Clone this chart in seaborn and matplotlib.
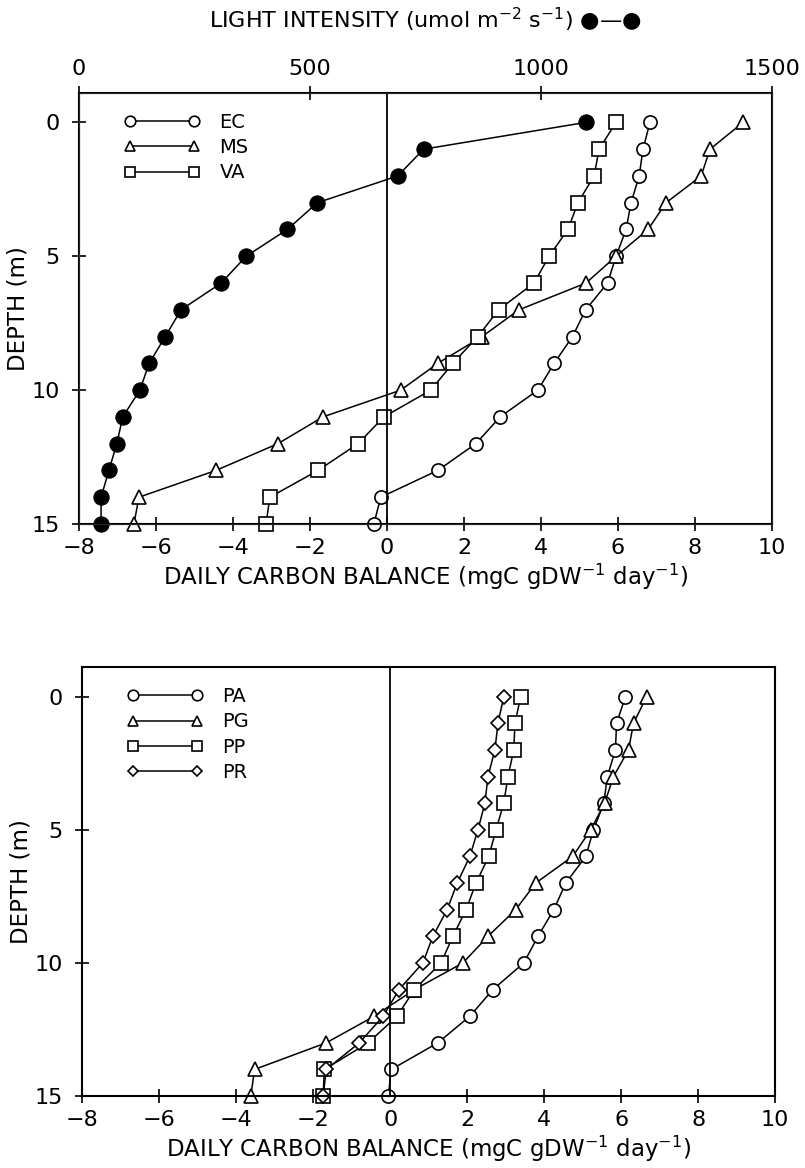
import pandas as pd
import matplotlib
matplotlib.use("Agg")
import matplotlib.pyplot as plt
import seaborn as sns

depth = list(range(16))

# light intensity (umol m-2 s-1), filled circles, top axis
light = [1097, 746, 690, 516, 451, 362, 308, 221, 187, 152, 132, 95, 82, 65, 48, 48]

# daily carbon balance (mgC gDW-1 day-1), upper panel
ec = [6.83, 6.65, 6.55, 6.34, 6.21, 5.95, 5.73, 5.16, 4.82, 4.34, 3.92, 2.94, 2.31, 1.32, -0.16, -0.34]
ms = [9.25, 8.39, 8.16, 7.25, 6.78, 5.95, 5.17, 3.43, 2.47, 1.32, 0.36, -1.66, -2.83, -4.44, -6.44, -6.57]
va = [5.95, 5.51, 5.38, 4.96, 4.70, 4.21, 3.82, 2.90, 2.36, 1.71, 1.14, -0.08, -0.75, -1.79, -3.04, -3.14]

# lower panel
pa = [6.11, 5.88, 5.85, 5.64, 5.55, 5.28, 5.08, 4.56, 4.25, 3.84, 3.47, 2.67, 2.07, 1.24, 0.03, -0.05]
pg = [6.66, 6.32, 6.19, 5.80, 5.57, 5.21, 4.74, 3.78, 3.26, 2.54, 1.89, 0.63, -0.41, -1.66, -3.52, -3.62]
pp = [3.39, 3.24, 3.21, 3.06, 2.95, 2.75, 2.56, 2.23, 1.97, 1.63, 1.32, 0.63, 0.18, -0.57, -1.71, -1.74]
pr = [2.95, 2.80, 2.72, 2.54, 2.46, 2.28, 2.07, 1.74, 1.48, 1.11, 0.85, 0.23, -0.18, -0.80, -1.66, -1.74]

sns.set_style("ticks")
plt.rcParams["font.family"] = ["DejaVu Sans"]
plt.rcParams["text.color"] = "black"
plt.rcParams["axes.labelcolor"] = "black"

fig = plt.figure(figsize=(8.05, 11.68), dpi=100)
ax1 = fig.add_axes([0.098, 0.5514, 0.861, 0.369])
ax2 = fig.add_axes([0.102, 0.0616, 0.861, 0.367])


def draw_species(ax, names, values, marks):
    for name, vals, m in zip(names, values, marks):
        sns.lineplot(x=vals, y=depth, ax=ax, sort=False, estimator=None,
                     color="black", linewidth=1.1, marker=m, markersize=9.5 if m != "D" else 7,
                     markerfacecolor="white", markeredgecolor="black",
                     markeredgewidth=1.2, label=name, clip_on=False)
    lines = ax.get_lines()[:len(names)]
    ax.legend(lines, names, loc="upper left", bbox_to_anchor=(0.04, 0.995),
              frameon=False, numpoints=2, handlelength=3.9, markerscale=0.8,
              fontsize=14, labelspacing=0.33, handletextpad=1.0)


def style_axes(ax):
    ax.axvline(0, color="black", linewidth=1.3)
    ax.set_xlim(-8, 10)
    ax.set_ylim(15, -1.1)
    ax.set_xticks(range(-8, 11, 2))
    ax.set_yticks([0, 5, 10, 15])
    ax.tick_params(axis="both", direction="inout", length=10, width=1.2,
                   labelsize=16, colors="black")
    ax.tick_params(axis="y", pad=9)
    ax.tick_params(axis="x", pad=5)
    for s in ax.spines.values():
        s.set_visible(True)
        s.set_linewidth(1.5)
        s.set_color("black")
    ax.set_xlabel("DAILY CARBON BALANCE (mgC gDW$^{-1}$ day$^{-1}$)", fontsize=16.5, labelpad=3)
    ax.set_ylabel("DEPTH (m)", fontsize=16.5, labelpad=1)


draw_species(ax1, ["EC", "MS", "VA"], [ec, ms, va], ["o", "^", "s"])
style_axes(ax1)

axt = ax1.twiny()
sns.lineplot(x=light, y=depth, ax=axt, sort=False, estimator=None, color="black",
             linewidth=1.1, marker="o", markersize=11, markerfacecolor="black",
             markeredgecolor="black", legend=False, clip_on=False)
axt.set_xlim(0, 1500)
axt.set_ylim(15, -1.1)
axt.set_xticks([0, 500, 1000, 1500])
axt.tick_params(axis="x", direction="inout", length=10, width=1.2, labelsize=16,
                colors="black", pad=5)
axt.set_xlabel("LIGHT INTENSITY (umol m$^{-2}$ s$^{-1}$) \u25cf\u2014\u25cf", fontsize=16, labelpad=22)
axt.set_ylabel("")

draw_species(ax2, ["PA", "PG", "PP", "PR"], [pa, pg, pp, pr], ["o", "^", "s", "D"])
style_axes(ax2)

fig.savefig("out.png", dpi=100, facecolor="white")
